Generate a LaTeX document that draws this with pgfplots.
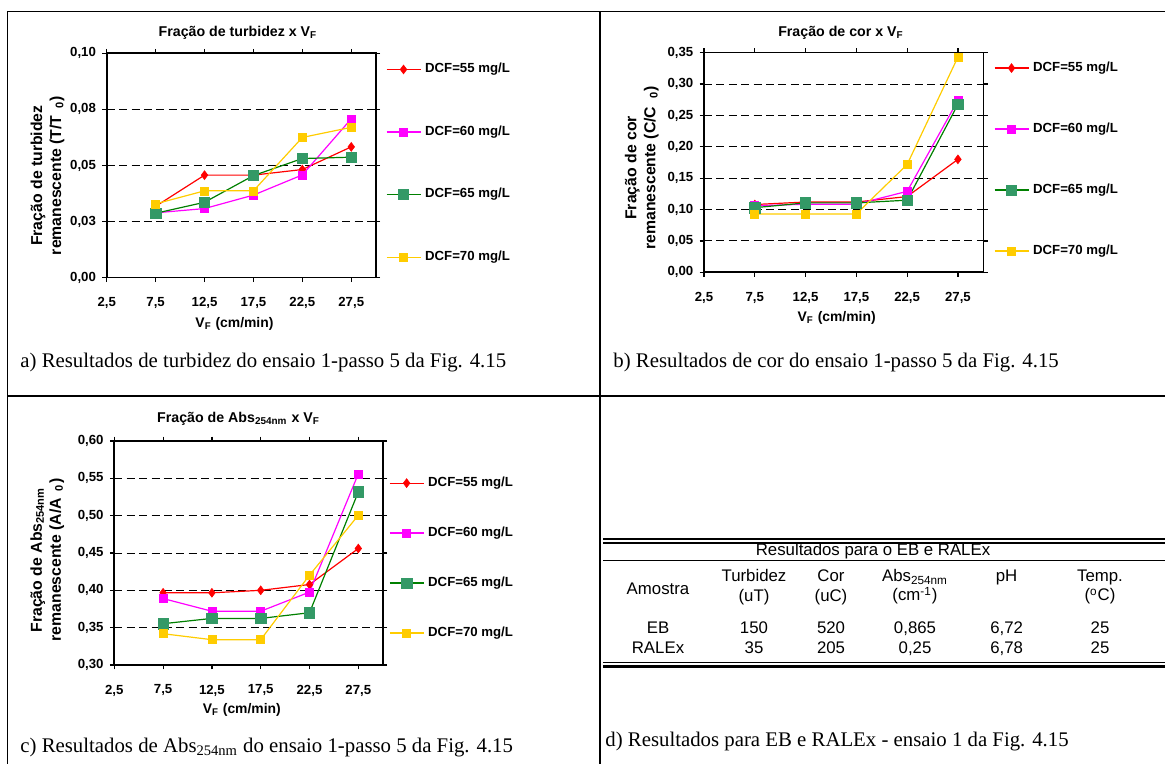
\documentclass[border=0pt]{standalone}
\usepackage{fontspec}
\setmainfont{Liberation Serif}
\newfontfamily\arial{Liberation Sans}
\usepackage{pgfplots}
\usepackage{pgfplotstable}
\pgfplotsset{compat=1.18}

\definecolor{sr55}{HTML}{FF0000}
\definecolor{sr60}{HTML}{FF00FF}
\definecolor{sr65line}{HTML}{008000}
\definecolor{sr65mark}{HTML}{339966}
\definecolor{sr70}{HTML}{FFCC00}

\newcommand{\chartfont}{\arial\bfseries\fontsize{6.6}{9.5}\selectfont}
\newcommand{\titlefont}{\arial\bfseries\fontsize{7.1}{9.5}\selectfont}
\newcommand{\xlabfont}{\arial\bfseries\fontsize{6.95}{9.5}\selectfont}
\newcommand{\ylabfont}{\arial\bfseries\fontsize{7.9}{9.5}\selectfont}
\newcommand{\capfont}{\fontsize{10.4}{12}\selectfont}
\newcommand{\tabfont}{\arial\fontsize{8.4}{10}\selectfont}

% Remaining fraction versus filtration rate V_F (cm/min)
\pgfplotstableread{
x     d55     d60     d65     d70
7.5   0.0318  0.0289  0.0287  0.0329
12.5  0.0457  0.0308  0.0336  0.0387
17.5  0.0457  0.0368  0.0455  0.0387
22.5  0.0482  0.0458  0.0531  0.0625
27.5  0.0583  0.0708  0.0537  0.0670
}\turbidez
\pgfplotstableread{
x     d55     d60     d65     d70
7.5   0.108   0.106   0.103   0.093
12.5  0.112   0.1085  0.1106  0.093
17.5  0.112   0.1085  0.1106  0.093
22.5  0.1207  0.129   0.1149  0.1718
27.5  0.180   0.274   0.2676  0.343
}\cor
\pgfplotstableread{
x     d55     d60     d65     d70
7.5   0.3967  0.389   0.3553  0.3419
12.5  0.3967  0.372   0.3624  0.3339
17.5  0.400   0.372   0.3624  0.3339
22.5  0.4078  0.3976  0.370   0.4203
27.5  0.456   0.556   0.5317  0.5005
}\abs

\pgfplotsset{
  vfchart/.style={
    scale only axis,
    clip=false,
    xmin=2.5, xmax=30,
    xtick={2.5,7.5,12.5,17.5,22.5,27.5},
    xticklabels={{2,5},{7,5},{12,5},{17,5},{22,5},{27,5}},
    tick align=outside,
    major tick length=2.2pt,
    tick style={black, line width=0.6pt},
    axis line style={black, line width=0.8pt},
    ymajorgrids,
    major grid style={black, line width=0.5pt, dash pattern=on 4pt off 2.2pt},
    tick label style={font=\chartfont},
    xticklabel style={inner sep=0pt, anchor=north, yshift=-7.5pt},
    yticklabel style={inner sep=0pt, anchor=east, xshift=-3pt},
    every axis title shift=0pt,
    title style={font=\titlefont, anchor=base, inner sep=0pt},
    xlabel={V\textsubscript{F} (cm/min)},
    xlabel style={font=\xlabfont, anchor=base, inner sep=0pt,
      at={(axis description cs:0.475,-0.224)}},
    ylabel style={font=\ylabfont, anchor=center, align=center, inner sep=0pt},
    legend style={draw=none, fill=none, font=\chartfont, inner sep=0pt, outer sep=0pt,
      anchor=north west, nodes={inner sep=0pt}, column sep=2pt},
    legend cell align=left,
    legend image code/.code={\draw[mark repeat=2, mark phase=2]
      plot coordinates {(0pt,0pt) (8.5pt,0pt) (17pt,0pt)};},
  },
  s55/.style={color=sr55, line width=0.6pt, mark=diamond*, mark size=2.2pt,
    mark options={solid, fill=sr55, draw=sr55, line width=0.3pt}},
  s60/.style={color=sr60, line width=0.6pt, mark=square*, mark size=2pt,
    mark options={solid, fill=sr60, draw=sr60, line width=0.3pt}},
  s65/.style={color=sr65line, line width=0.6pt, mark=square*, mark size=2.6pt,
    mark options={solid, fill=sr65mark, draw=sr65mark, line width=0.3pt}},
  s70/.style={color=sr70, line width=0.6pt, mark=square*, mark size=2pt,
    mark options={solid, fill=sr70, draw=sr70, line width=0.3pt}},
}

\begin{document}
\begin{tikzpicture}
\path[use as bounding box] (0,0) rectangle (582.5pt,382pt);
\clip (0,0) rectangle (582.5pt,382pt);

% panel frame
\draw[line width=0.9pt] (3.75pt,0) -- (3.75pt,376.25pt) -- (582.5pt,376.25pt);
\draw[line width=0.9pt] (300pt,0) -- (300pt,376.25pt);
\draw[line width=0.9pt] (3.75pt,184pt) -- (582.5pt,184pt);

% a) turbidity
\begin{axis}[vfchart,
  at={(53.35pt,243.15pt)}, anchor=south west,
  width=134.5pt, height=112.2pt,
  ymin=0, ymax=0.1,
  ytick={0,0.025,0.05,0.075,0.1},
  yticklabels={{0,00},{0,03},{0,05},{0,08},{0,10}},
  title={Fração de turbidez x V\textsubscript{F}},
  title style={at={(axis description cs:0.488,1.074)}},
  ylabel={Fração de turbidez\\remanescente (T/T\hspace{3.5pt}\textsubscript{0})},
  ylabel style={at={(axis description cs:-0.22,0.455)}},
  legend style={at={(axis description cs:1.038,0.956)}, row sep=25pt},
]
\addplot[s55] table[x=x, y=d55] {\turbidez};
\addlegendentry{DCF=55 mg/L}
\addplot[s60] table[x=x, y=d60] {\turbidez};
\addlegendentry{DCF=60 mg/L}
\addplot[s65] table[x=x, y=d65] {\turbidez};
\addlegendentry{DCF=65 mg/L}
\addplot[s70] table[x=x, y=d70] {\turbidez};
\addlegendentry{DCF=70 mg/L}
\end{axis}

% b) colour
\begin{axis}[vfchart,
  at={(352pt,245.85pt)}, anchor=south west,
  width=139.65pt, height=109.8pt,
  ymin=0, ymax=0.35,
  ytick={0,0.05,0.1,0.15,0.2,0.25,0.3,0.35},
  yticklabels={{0,00},{0,05},{0,10},{0,15},{0,20},{0,25},{0,30},{0,35}},
  title={Fração de cor x V\textsubscript{F}},
  title style={at={(axis description cs:0.4905,1.073)}},
  xlabel style={at={(axis description cs:0.475,-0.225)}},
  ylabel={Fração de cor\\remanescente (C/C\hspace{4pt}\textsubscript{0})},
  ylabel style={at={(axis description cs:-0.223,0.475)}},
  legend style={at={(axis description cs:1.038,0.9585)}, row sep=24.2pt},
]
\addplot[s55] table[x=x, y=d55] {\cor};
\addlegendentry{DCF=55 mg/L}
\addplot[s60] table[x=x, y=d60] {\cor};
\addlegendentry{DCF=60 mg/L}
\addplot[s65] table[x=x, y=d65] {\cor};
\addlegendentry{DCF=65 mg/L}
\addplot[s70] table[x=x, y=d70] {\cor};
\addlegendentry{DCF=70 mg/L}
\end{axis}

% c) absorbance at 254 nm
\begin{axis}[vfchart,
  at={(57.15pt,49.5pt)}, anchor=south west,
  width=134.2pt, height=112pt,
  ymin=0.3, ymax=0.6,
  ytick={0.3,0.35,0.4,0.45,0.5,0.55,0.6},
  yticklabels={{0,30},{0,35},{0,40},{0,45},{0,50},{0,55},{0,60}},
  title={Fração de Abs\textsubscript{254nm} x V\textsubscript{F}},
  title style={at={(axis description cs:0.463,1.082)}},
  xlabel style={at={(axis description cs:0.475,-0.216)}},
  ylabel={Fração de Abs\textsubscript{254nm}\\remanescente (A/A\hspace{3.5pt}\textsubscript{0})},
  ylabel style={at={(axis description cs:-0.25,0.469)}},
  legend style={at={(axis description cs:1.0235,0.840)}, row sep=18.7pt},
]
\addplot[s55] table[x=x, y=d55] {\abs};
\addlegendentry{DCF=55 mg/L}
\addplot[s60] table[x=x, y=d60] {\abs};
\addlegendentry{DCF=60 mg/L}
\addplot[s65] table[x=x, y=d65] {\abs};
\addlegendentry{DCF=65 mg/L}
\addplot[s70] table[x=x, y=d70] {\abs};
\addlegendentry{DCF=70 mg/L}
\end{axis}

% d) raw water and sludge-recovered water table
\draw[line width=1.3pt] (301.5pt,112.5pt) -- (590pt,112.5pt);
\draw[line width=0.6pt] (301.5pt,110.5pt) -- (590pt,110.5pt);
\draw[line width=0.5pt] (301.5pt,101.5pt) -- (590pt,101.5pt);
\draw[line width=0.6pt] (301.5pt,50.7pt) -- (590pt,50.7pt);
\draw[line width=1.3pt] (301.5pt,48.7pt) -- (590pt,48.7pt);
\begin{scope}[every node/.style={font=\tabfont, inner sep=0pt, anchor=base}]
\node at (436.5pt,104pt) {Resultados para o EB e RALEx};
\node at (329pt,84.5pt) {Amostra};
\node at (377pt,91.15pt) {Turbidez};
\node at (377pt,81pt) {(uT)};
\node at (415.5pt,91.15pt) {Cor};
\node at (415.5pt,81pt) {(uC)};
\node at (457.5pt,91.15pt) {Abs\textsubscript{254nm}};
\node at (457.5pt,81.5pt) {(cm\textsuperscript{-1})};
\node at (503.3pt,91.15pt) {pH};
\node at (550pt,91.15pt) {Temp.};
\node at (550pt,81.5pt) {(\textsuperscript{o}C)};
\node at (329pt,65pt) {EB};
\node at (377pt,65pt) {150};
\node at (415.5pt,65pt) {520};
\node at (457.5pt,65pt) {0,865};
\node at (503.3pt,65pt) {6,72};
\node at (550pt,65pt) {25};
\node at (329pt,55pt) {RALEx};
\node at (377pt,55pt) {35};
\node at (415.5pt,55pt) {205};
\node at (457.5pt,55pt) {0,25};
\node at (503.3pt,55pt) {6,78};
\node at (550pt,55pt) {25};
\end{scope}

% panel captions
\begin{scope}[every node/.style={font=\capfont, inner sep=0pt, anchor=base west}]
\node at (10pt,198pt) {a) Resultados de turbidez do ensaio 1-passo 5 da Fig. 4.15};
\node at (306.5pt,198pt) {b) Resultados de cor do ensaio 1-passo 5 da Fig. 4.15};
\node at (10pt,5.65pt) {c) Resultados de Abs\textsubscript{254nm} do ensaio 1-passo 5 da Fig. 4.15};
\node at (302.5pt,8.5pt) {d) Resultados para EB e RALEx - ensaio 1 da Fig. 4.15};
\end{scope}
\end{tikzpicture}
\end{document}
